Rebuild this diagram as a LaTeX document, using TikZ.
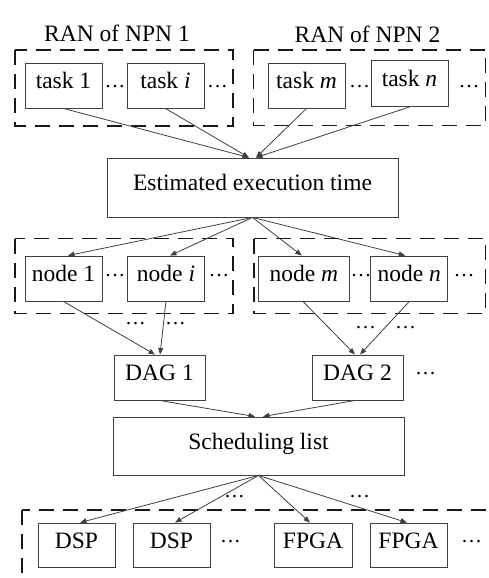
\documentclass[tikz,border=0pt]{standalone}
\usepackage{fontspec}
\setmainfont{Liberation Serif}
\usetikzlibrary{arrows.meta}
\tikzset{
  txt/.style={font=\fontsize{23.5}{28}\selectfont, inner sep=0pt},
  box/.style={txt, draw=black!75, line width=0.9pt, text height=0.68em, text depth=0pt,
              minimum width=77pt, minimum height=45pt},
  group/.style={draw=black!90, line width=1.8pt, dash pattern=on 15pt off 9pt},
  link/.style={draw=black!75, line width=0.8pt, -{Triangle[length=6.5pt,width=5pt]}},
  % three middle dots; the given y is the height of the dots
  dots/.style={font=\fontsize{21}{24}\selectfont, inner sep=0pt, anchor=base, yshift=-5pt}
}
\begin{document}
\begin{tikzpicture}[x=1pt,y=-1pt]
\clip (0,0) rectangle (489,578);
\fill[white] (0,0) rectangle (489,578);

% dashed group frames
\draw[group] (15,50) rectangle (233,126);
\draw[group] (253.5,50) rectangle (485.5,125.5);
\draw[group] (15,238.5) rectangle (233,313.5);
\draw[group] (254,238.5) rectangle (485.5,313.5);
\draw[group] (22,510) rectangle (500,600);

% group titles
\node[txt, anchor=base] (ran1) at (117,41.7) {RAN of NPN 1};
\node[txt, anchor=base] (ran2) at (367.5,42.5) {RAN of NPN 2};

% tasks
\node[box] (t1) at (63.5,85.5) {task 1};
\node[box] (ti) at (165.5,85.5) {task \textit{i}};
\node[box] (tm) at (306.5,85.5) {task \textit{m}};
\node[box, minimum height=46pt] (tn) at (409.5,83.5) {task \textit{n}};
\node[dots] (td1) at (115,88) {···};
\node[dots] (td2) at (217.5,88) {···};
\node[dots] (td3) at (359.5,88) {···};
\node[dots] (td4) at (469,88) {···};

% execution time estimate
\node[box, minimum width=291pt, minimum height=59pt] (est) at (252.5,187.5) {Estimated execution time};

% network nodes
\node[box] (n1) at (63.5,278.5) {node 1};
\node[box] (ni) at (166,278.5) {node \textit{i}};
\node[box, minimum width=91pt] (nm) at (303.8,278.5) {node \textit{m}};
\node[box] (nn) at (409.3,278.5) {node \textit{n}};
\node[dots] (nd1) at (115,277) {···};
\node[dots] (nd2) at (219,277) {···};
\node[dots] (nd3) at (361,277) {···};
\node[dots] (nd4) at (464,277) {···};

% DAGs
\node[box, minimum width=91pt] (d1) at (159.5,377.5) {DAG 1};
\node[box, minimum width=91pt] (d2) at (357.5,377.5) {DAG 2};
\node[dots] (dd1) at (135.5,325) {···};
\node[dots] (dd2) at (175.5,325) {···};
\node[dots] (dd3) at (365.5,329) {···};
\node[dots] (dd4) at (405.5,329) {···};
\node[dots] (dd5) at (425.5,375) {···};

% scheduling
\node[box, minimum width=291pt, minimum height=58pt] (s) at (258.5,446) {Scheduling list};
\node[dots] (sd1) at (234.5,498) {···};
\node[dots] (sd2) at (359.5,498) {···};

% processors
\node[box, minimum height=44pt] (p1) at (76.5,545) {DSP};
\node[box, minimum height=44pt] (p2) at (171.5,545) {DSP};
\node[box, minimum width=78pt, minimum height=44pt] (p3) at (313,545) {FPGA};
\node[box, minimum height=44pt] (p4) at (408.5,545) {FPGA};
\node[dots] (pd1) at (230.5,543) {···};
\node[dots] (pd2) at (471.5,543) {···};

% connectors
\draw[link] (t1.south) -- ([xshift=-3.5pt]est.north);
\draw[link] (ti.south) -- ([xshift=-3.5pt]est.north);
\draw[link] (tm.south) -- ([xshift=3.5pt]est.north);
\draw[link] (tn.south) -- ([xshift=3.5pt]est.north);

\draw[link] (est.south) -- ([xshift=4.5pt]n1.north);
\draw[link] (est.south) -- ([xshift=4pt]ni.north);
\draw[link] (est.south) -- ([xshift=-2pt]nm.north);
\draw[link] (est.south) -- ([xshift=-4pt]nn.north);

\draw[link] (n1.south) -- ([xshift=-4.5pt]d1.north);
\draw[link] (ni.south) -- ([xshift=0.5pt]d1.north);
\draw[link] ([xshift=-0.8pt]nm.south) -- ([xshift=-2.5pt]d2.north);
\draw[link] (nn.south) -- ([xshift=2.5pt]d2.north);

\draw[link] (d1.south) -- ([xshift=-3.5pt]s.north);
\draw[link] ([xshift=-2.5pt]d2.south) -- ([xshift=4.5pt]s.north);

\draw[link] (s.south) -- ([xshift=3.5pt]p1.north);
\draw[link] (s.south) -- ([xshift=3.5pt]p2.north);
\draw[link] (s.south) -- ([xshift=-3pt]p3.north);
\draw[link] (s.south) -- ([xshift=-1.5pt]p4.north);
\end{tikzpicture}
\end{document}
